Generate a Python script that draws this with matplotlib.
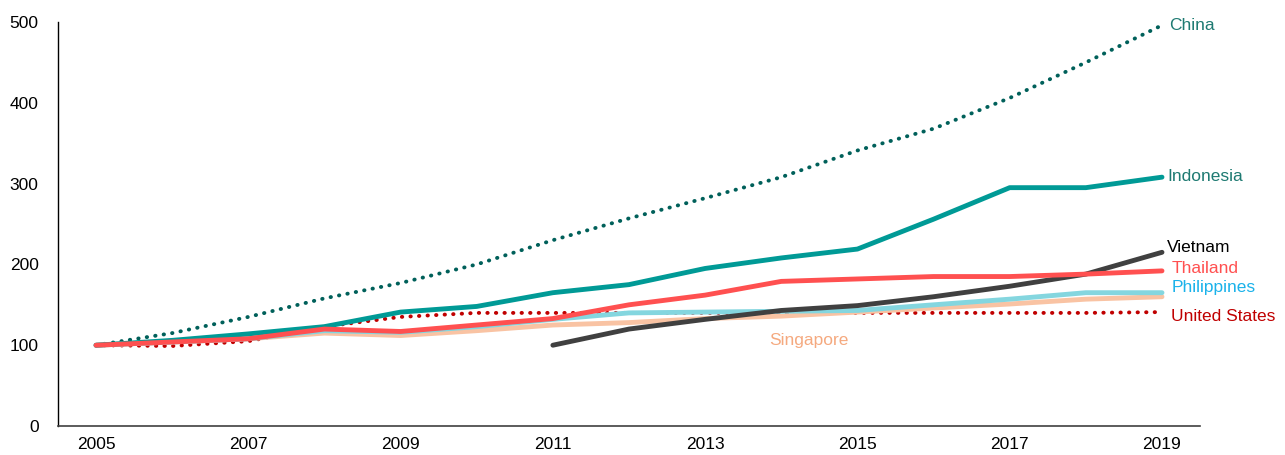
import numpy as np
import matplotlib
matplotlib.use('Agg')
from matplotlib import pyplot as plt

plt.rcParams['font.family'] = ['Liberation Sans', 'DejaVu Sans']

# Index values (2005 = 100, Vietnam 2011 = 100)
years = list(range(2005, 2020))
china = [100, 115, 135, 158, 177, 200, 230, 257, 282, 308, 341, 368, 406, 450, 496]
indonesia = [100, 106, 114, 123, 141, 148, 165, 175, 195, 208, 219, 256, 295, 295, 308]
thailand = [100, 104, 108, 120, 117, 125, 133, 150, 162, 179, 182, 185, 185, 188, 192]
united_states = [100, 99, 105, 123, 135, 140, 140, 140, 140, 140, 140, 140, 140, 140, 141]
philippines = [100, 104, 108, 118, 116, 123, 132, 140, 141, 142, 143, 150, 157, 165, 165]
singapore = [100, 104, 108, 115, 112, 118, 125, 128, 133, 136, 141, 146, 151, 157, 160]
vietnam_years = list(range(2011, 2020))
vietnam = [100, 120, 132, 143, 149, 160, 173, 188, 215]

fig = plt.figure(figsize=(12.85, 4.55), dpi=100)
ax = fig.add_axes([0.0451, 0.0637, 0.8888, 0.8879])

dot = (0, (0.1, 2.1))
ax.plot(years, united_states, color='#c00000', lw=2.8, ls=dot, dash_capstyle='round')
ax.plot(years, china, color='#00605a', lw=2.8, ls=dot, dash_capstyle='round')
ax.plot(years, singapore, color='#f9c3a3', lw=3.5, solid_capstyle='round')
ax.plot(years, philippines, color='#84d6df', lw=3.5, solid_capstyle='round')
ax.plot(vietnam_years, vietnam, color='#404040', lw=3.5, solid_capstyle='round')
ax.plot(years, indonesia, color='#009a96', lw=3.5, solid_capstyle='round')
ax.plot(years, thailand, color='#ff5050', lw=3.5, solid_capstyle='round')

# end labels
fs = 12.5
ax.text(2019.09, china[-1], 'China', color='#1e7a72', fontsize=fs, va='center')
ax.text(2019.07, indonesia[-1] + 1, 'Indonesia', color='#1e7a72', fontsize=fs, va='center')
ax.text(2019.07, vietnam[-1] + 6, 'Vietnam', color='black', fontsize=fs, va='center')
ax.text(2019.12, thailand[-1] + 3, 'Thailand', color='#ff5050', fontsize=fs, va='center')
ax.text(2019.12, philippines[-1] + 7, 'Philippines', color='#1ab2ea', fontsize=fs, va='center')
ax.text(2019.12, united_states[-1] - 5, 'United States', color='#c00000', fontsize=fs, va='center')
ax.text(2014.36, 106, 'Singapore', color='#f5a97f', fontsize=fs, va='center', ha='center')

ax.set_xlim(2004.5, 2019.5)
ax.set_ylim(0, 500)
ax.set_xticks(range(2005, 2020, 2))
ax.set_yticks(range(0, 501, 100))
ax.tick_params(length=0, labelsize=fs, pad=8)
ax.tick_params(axis='y', pad=14)
for s in ['top', 'right']:
    ax.spines[s].set_visible(False)
ax.spines['left'].set_color('black')
ax.spines['bottom'].set_color('#404040')
ax.spines['left'].set_linewidth(1)
ax.spines['bottom'].set_linewidth(1.2)

fig.savefig('out.png', dpi=100)
